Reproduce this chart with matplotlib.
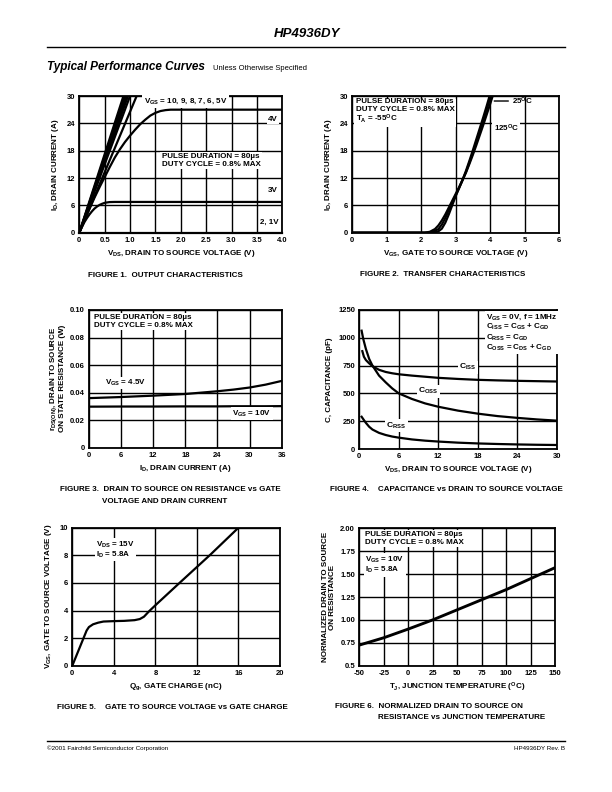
import matplotlib
matplotlib.use("Agg")
import matplotlib.pyplot as plt
import numpy as np

plt.rcParams['font.family'] = ['Liberation Sans Narrow', 'Liberation Sans', 'DejaVu Sans']
plt.rcParams['font.weight'] = 'bold'
plt.rcParams['mathtext.default'] = 'regular'
plt.rcParams['axes.unicode_minus'] = False

# ---------------- data ----------------
# Figure 1: output characteristics
f1_vds_steep = [0, 1.2]
f1_steep_slopes_end = [0.87, 0.90, 0.93, 0.96, 1.00, 1.13]  # Vds where Id reaches 30 A (10..5V)
f1_4v_vds = [0, 0.1, 0.2, 0.3, 0.4, 0.5, 0.6, 0.7, 0.8, 0.9, 1.0, 1.1, 1.2, 1.3, 1.4, 1.5, 1.6, 1.7, 1.8, 4.0]
f1_4v_id = [0, 2.6, 5.2, 7.7, 10.0, 12.2, 14.4, 16.5, 18.3, 19.9, 21.3, 22.6, 23.8, 24.8, 25.7, 26.3,
            26.7, 26.9, 27.0, 27.0]
f1_3v_vds = [0, 0.05, 0.1, 0.15, 0.2, 0.25, 0.3, 0.35, 0.4, 0.45, 0.5, 0.55, 0.6, 0.7, 4.0]
f1_3v_id = [0, 1.2, 2.3, 3.2, 4.0, 4.7, 5.3, 5.75, 6.1, 6.35, 6.55, 6.65, 6.72, 6.75, 6.75]
f1_21v_vds = [0, 4.0]
f1_21v_id = [0, 0]

# Figure 2: transfer characteristics
f2_m55_vgs = [0, 2.35, 2.5, 2.6, 2.7, 2.8, 2.9, 3.0, 3.1, 3.2, 3.3, 3.4, 3.5, 3.6, 3.7, 3.8, 3.9, 4.0]
f2_m55_id = [0, 0, 0.3, 0.9, 2.2, 4.0, 6.0, 8.0, 9.8, 11.6, 13.6, 15.8, 18.1, 20.5, 22.9, 25.3, 27.8, 30.4]
f2_25_vgs = [0, 2.2, 2.35, 2.5, 2.6, 2.7, 2.8, 2.9, 3.0, 3.1, 3.2, 3.3, 3.4, 3.5, 3.6, 3.7, 3.8, 3.9, 4.0, 4.05]
f2_25_id = [0, 0, 0.2, 0.8, 1.8, 3.2, 5.0, 6.6, 8.2, 9.8, 11.5, 13.3, 15.4, 17.6, 19.9, 22.2, 24.5, 27.0,
            29.5, 30.7]
f2_125_vgs = [0, 2.1, 2.25, 2.4, 2.5, 2.6, 2.7, 2.8, 2.9, 3.0, 3.1, 3.2, 3.3, 3.4, 3.5, 3.6, 3.7, 3.8, 3.9,
              4.0, 4.1]
f2_125_id = [0, 0, 0.2, 0.8, 1.6, 2.7, 4.0, 5.5, 7.0, 8.5, 10.0, 11.6, 13.2, 15.1, 17.1, 19.2, 21.4, 23.6,
             25.9, 28.2, 30.6]

# Figure 3: on resistance vs drain current
f3_id = [0, 6, 12, 18, 24, 27, 30, 33, 36]
f3_r45 = [0.036, 0.0368, 0.0378, 0.039, 0.041, 0.0422, 0.0437, 0.0458, 0.0485]
f3_r10 = [0.0298, 0.0299, 0.0299, 0.0300, 0.0300, 0.0301, 0.0301, 0.0301, 0.0302]

# Figure 4: capacitance
f4_ciss_v = [0.46, 0.7, 1.0, 1.5, 2, 3, 4, 5, 6, 8, 10, 12, 15, 18, 21, 24, 27, 30]
f4_ciss = [880, 830, 800, 770, 745, 712, 693, 681, 672, 660, 650, 640, 630, 622, 617, 613, 610, 607]
f4_coss_v = [0.35, 0.6, 1.0, 1.5, 2, 3, 4, 5, 6, 8, 10, 12, 15, 18, 21, 24, 27, 30]
f4_coss = [1064, 990, 900, 810, 750, 660, 600, 545, 500, 450, 410, 380, 345, 318, 296, 280, 266, 255]
f4_crss_v = [0.35, 0.7, 1.0, 1.5, 2, 3, 4, 5, 6, 8, 10, 12, 15, 18, 21, 24, 27, 30]
f4_crss = [290, 260, 235, 200, 175, 145, 126, 112, 102, 86, 75, 67, 57, 50, 45, 41, 38, 36]

# Figure 5: gate charge
f5_qg = [0, 1.38, 1.6, 2.0, 2.5, 3.0, 4.0, 5.0, 6.0, 6.5, 6.9, 7.4, 8.1, 10.4, 13.3, 16.0]
f5_vgs = [0, 2.55, 2.8, 3.0, 3.12, 3.2, 3.23, 3.25, 3.3, 3.38, 3.55, 3.95, 4.45, 6.05, 8.05, 10.0]

# Figure 6: normalized on resistance vs temperature
f6_tj = [-50, -25, 0, 25, 50, 75, 100, 125, 150]
f6_rn = [0.725, 0.805, 0.90, 1.0, 1.11, 1.22, 1.33, 1.45, 1.57]

W, H = 612, 792
fig = plt.figure(figsize=(W / 100, H / 100), dpi=100)


def ax_px(l, t, r, b):
    return fig.add_axes([l / W, 1 - b / H, (r - l) / W, (b - t) / H])


def style(ax, xlim, ylim, xt, yt, xtl=None, ytl=None):
    ax.set_xlim(*xlim)
    ax.set_ylim(*ylim)
    ax.set_xticks(xt)
    ax.set_yticks(yt)
    if xtl is not None:
        ax.set_xticklabels(xtl)
    if ytl is not None:
        ax.set_yticklabels(ytl)
    ax.grid(True, color='black', lw=1.0)
    ax.set_axisbelow(True)
    ax.tick_params(length=0, labelsize=5.5, pad=3)
    for lbl in ax.get_xticklabels() + ax.get_yticklabels():
        lbl.set_fontweight('bold')
    for s in ax.spines.values():
        s.set_linewidth(1.3)


def ftext(x, y, s, size=5.8, ha='left', va='baseline', **kw):
    fig.text(x / W, 1 - y / H, s, fontsize=size, ha=ha, va=va, fontweight='bold', **kw)


WB = dict(facecolor='white', edgecolor='none', pad=1.0)
LW = 1.6
LS = 5.8  # axis label size
AS = 5.8  # annotation size

# ---------- header / footer ----------
ftext(307, 37, 'HP4936DY', size=9.5, ha='center', style='italic')
fig.add_artist(plt.Line2D([47 / W, 565 / W], [1 - 47 / H, 1 - 47 / H], color='black', lw=1.0))
ftext(47, 70, 'Typical Performance Curves', size=8.5, style='italic')
fig.text(213 / W, 1 - 70 / H, 'Unless Otherwise Specified', fontsize=5.5, fontweight='normal')
fig.add_artist(plt.Line2D([47 / W, 565 / W], [1 - 741 / H, 1 - 741 / H], color='black', lw=1.0))
fig.text(47 / W, 1 - 750 / H, '©2001 Fairchild Semiconductor Corporation', fontsize=4.5, fontweight='normal')
fig.text(565 / W, 1 - 750 / H, 'HP4936DY Rev. B', fontsize=4.5, fontweight='normal', ha='right')

# ---------- Figure 1 ----------
ax1 = ax_px(79.3, 96, 282.3, 232.7)
for vend in f1_steep_slopes_end:
    ax1.plot(f1_vds_steep, [0, 30 * f1_vds_steep[1] / vend], color='black', lw=LW, clip_on=True)
ax1.plot(f1_4v_vds, f1_4v_id, color='black', lw=LW)
ax1.plot(f1_3v_vds, f1_3v_id, color='black', lw=LW)
ax1.plot(f1_21v_vds, f1_21v_id, color='black', lw=LW, clip_on=False)
style(ax1, (0, 4), (0, 30), np.arange(0, 4.01, 0.5), np.arange(0, 31, 6),
      xtl=['0', '0.5', '1.0', '1.5', '2.0', '2.5', '3.0', '3.5', '4.0'])
ax1.set_xlabel('V$_{DS}$, DRAIN TO SOURCE VOLTAGE (V)', fontsize=LS, fontweight='bold', labelpad=3)
ax1.set_ylabel('I$_D$, DRAIN CURRENT (A)', fontsize=LS, fontweight='bold', labelpad=4)
ax1.text(1.27, 28.8, 'V$_{GS}$ = 10, 9, 8, 7, 6, 5V', fontsize=AS, fontweight='bold', va='center', bbox=WB)
ax1.text(3.82, 24.9, '4V', fontsize=AS, fontweight='bold', va='center', ha='center', bbox=WB)
ax1.text(3.82, 9.2, '3V', fontsize=AS, fontweight='bold', va='center', ha='center', bbox=WB)
ax1.text(3.75, 2.3, '2, 1V', fontsize=AS, fontweight='bold', va='center', ha='center', bbox=WB)
ax1.text(1.62, 15.8, 'PULSE DURATION = 80µs\nDUTY CYCLE = 0.8% MAX', fontsize=AS, fontweight='bold',
         va='center', linespacing=1.1, bbox=WB)
ftext(165, 277, 'FIGURE 1.  OUTPUT CHARACTERISTICS', ha='center')

# ---------- Figure 2 ----------
ax2 = ax_px(352.3, 96, 559, 232.7)
ax2.plot(f2_m55_vgs, f2_m55_id, color='black', lw=LW)
ax2.plot(f2_25_vgs, f2_25_id, color='black', lw=LW)
ax2.plot(f2_125_vgs, f2_125_id, color='black', lw=LW)
style(ax2, (0, 6), (0, 30), np.arange(0, 7, 1), np.arange(0, 31, 6))
ax2.set_xlabel('V$_{GS}$, GATE TO SOURCE VOLTAGE (V)', fontsize=LS, fontweight='bold', labelpad=3)
ax2.set_ylabel('I$_D$, DRAIN CURRENT (A)', fontsize=LS, fontweight='bold', labelpad=4)
ax2.text(0.1, 29.5, 'PULSE DURATION = 80µs\nDUTY CYCLE = 0.8% MAX\nT$_A$ = -55$^{O}$C', fontsize=AS,
         fontweight='bold', va='top', linespacing=1.05, bbox=WB)
ax2.annotate('25$^{O}$C', xy=(4.12, 28.9), xytext=(4.65, 28.9), fontsize=AS, fontweight='bold', va='center',
             arrowprops=dict(arrowstyle='-', lw=1.0, color='black', shrinkA=1, shrinkB=0))
ax2.text(4.1, 23.0, '125$^{O}$C', fontsize=AS, fontweight='bold', va='center', bbox=WB)
ftext(443, 276, 'FIGURE 2.  TRANSFER CHARACTERISTICS', ha='center')

# ---------- Figure 3 ----------
ax3 = ax_px(89, 310, 281.7, 447.7)
ax3.plot(f3_id, f3_r45, color='black', lw=LW)
ax3.plot(f3_id, f3_r10, color='black', lw=LW)
style(ax3, (0, 36), (0, 0.10), np.arange(0, 37, 6), np.arange(0, 0.101, 0.02),
      ytl=['0', '0.02', '0.04', '0.06', '0.08', '0.10'])
ax3.set_xlabel('I$_D$, DRAIN CURRENT (A)', fontsize=LS, fontweight='bold', labelpad=3)
ax3.set_ylabel('r$_{DS(ON)}$, DRAIN TO SOURCE\nON STATE RESISTANCE (W)', fontsize=LS, fontweight='bold',
               labelpad=3, linespacing=0.95)
ax3.text(1.0, 0.097, 'PULSE DURATION = 80µs\nDUTY CYCLE = 0.8% MAX', fontsize=AS, fontweight='bold',
         va='top', linespacing=1.1, bbox=WB)
ax3.text(3.0, 0.047, 'V$_{GS}$ = 4.5V', fontsize=AS, fontweight='bold', va='center', bbox=WB)
ax3.text(26.8, 0.0245, 'V$_{GS}$ = 10V', fontsize=AS, fontweight='bold', va='center', bbox=WB)
ftext(60, 491, 'FIGURE 3.  DRAIN TO SOURCE ON RESISTANCE vs GATE')
ftext(102, 503, 'VOLTAGE AND DRAIN CURRENT')

# ---------- Figure 4 ----------
ax4 = ax_px(359.3, 310, 556.7, 449)
ax4.plot(f4_ciss_v, f4_ciss, color='black', lw=LW)
ax4.plot(f4_coss_v, f4_coss, color='black', lw=LW)
ax4.plot(f4_crss_v, f4_crss, color='black', lw=LW)
style(ax4, (0, 30), (0, 1250), np.arange(0, 31, 6), np.arange(0, 1251, 250))
ax4.set_xlabel('V$_{DS}$, DRAIN TO SOURCE VOLTAGE (V)', fontsize=LS, fontweight='bold', labelpad=3)
ax4.set_ylabel('C, CAPACITANCE (pF)', fontsize=LS, fontweight='bold', labelpad=4)
ax4.text(19.3, 1225, 'V$_{GS}$ = 0V, f = 1MHz\nC$_{ISS}$ = C$_{GS}$ + C$_{GD}$\nC$_{RSS}$ = C$_{GD}$\n'
         'C$_{OSS}$ = C$_{DS}$ + C$_{GD}$', fontsize=AS, fontweight='bold', va='top', linespacing=1.0, bbox=WB)
ax4.text(16.5, 735, 'C$_{ISS}$', fontsize=AS + 0.3, fontweight='bold', va='center', ha='center', bbox=WB)
ax4.text(10.5, 520, 'C$_{OSS}$', fontsize=AS + 0.3, fontweight='bold', va='center', ha='center', bbox=WB)
ax4.text(5.6, 210, 'C$_{RSS}$', fontsize=AS + 0.3, fontweight='bold', va='center', ha='center', bbox=WB)
ftext(330, 491, 'FIGURE 4.    CAPACITANCE vs DRAIN TO SOURCE VOLTAGE')

# ---------- Figure 5 ----------
ax5 = ax_px(72.3, 527.7, 280, 665.7)
ax5.plot(f5_qg, f5_vgs, color='black', lw=LW)
style(ax5, (0, 20), (0, 10), np.arange(0, 21, 4), np.arange(0, 11, 2))
ax5.set_xlabel('Q$_g$, GATE CHARGE (nC)', fontsize=LS, fontweight='bold', labelpad=3)
ax5.set_ylabel('V$_{GS}$, GATE TO SOURCE VOLTAGE (V)', fontsize=LS, fontweight='bold', labelpad=4)
ax5.text(2.3, 8.4, 'V$_{DS}$ = 15V\nI$_D$ = 5.8A', fontsize=AS, fontweight='bold', va='center',
         linespacing=1.0, bbox=WB)
ftext(57, 709, 'FIGURE 5.    GATE TO SOURCE VOLTAGE vs GATE CHARGE')

# ---------- Figure 6 ----------
ax6 = ax_px(359.3, 528.3, 555, 665.7)
ax6.plot(f6_tj, f6_rn, color='black', lw=LW * 1.3)
style(ax6, (-50, 150), (0.5, 2.0), np.arange(-50, 151, 25), np.arange(0.5, 2.01, 0.25),
      ytl=['0.5', '0.75', '1.00', '1.25', '1.50', '1.75', '2.00'])
ax6.set_xlabel('T$_J$, JUNCTION TEMPERATURE ($^{O}$C)', fontsize=LS, fontweight='bold', labelpad=3)
ax6.set_ylabel('NORMALIZED DRAIN TO SOURCE\nON RESISTANCE', fontsize=LS, fontweight='bold',
               labelpad=3, linespacing=0.95)
ax6.text(-44, 1.97, 'PULSE DURATION = 80µs\nDUTY CYCLE = 0.8% MAX', fontsize=AS, fontweight='bold',
         va='top', linespacing=1.1, bbox=WB)
ax6.text(-44, 1.71, 'V$_{GS}$ = 10V\nI$_D$ = 5.8A', fontsize=AS, fontweight='bold', va='top',
         linespacing=1.0, bbox=WB)
ftext(335, 708, 'FIGURE 6.  NORMALIZED DRAIN TO SOURCE ON')
ftext(378, 719, 'RESISTANCE vs JUNCTION TEMPERATURE')

fig.savefig('out.png', dpi=100)
